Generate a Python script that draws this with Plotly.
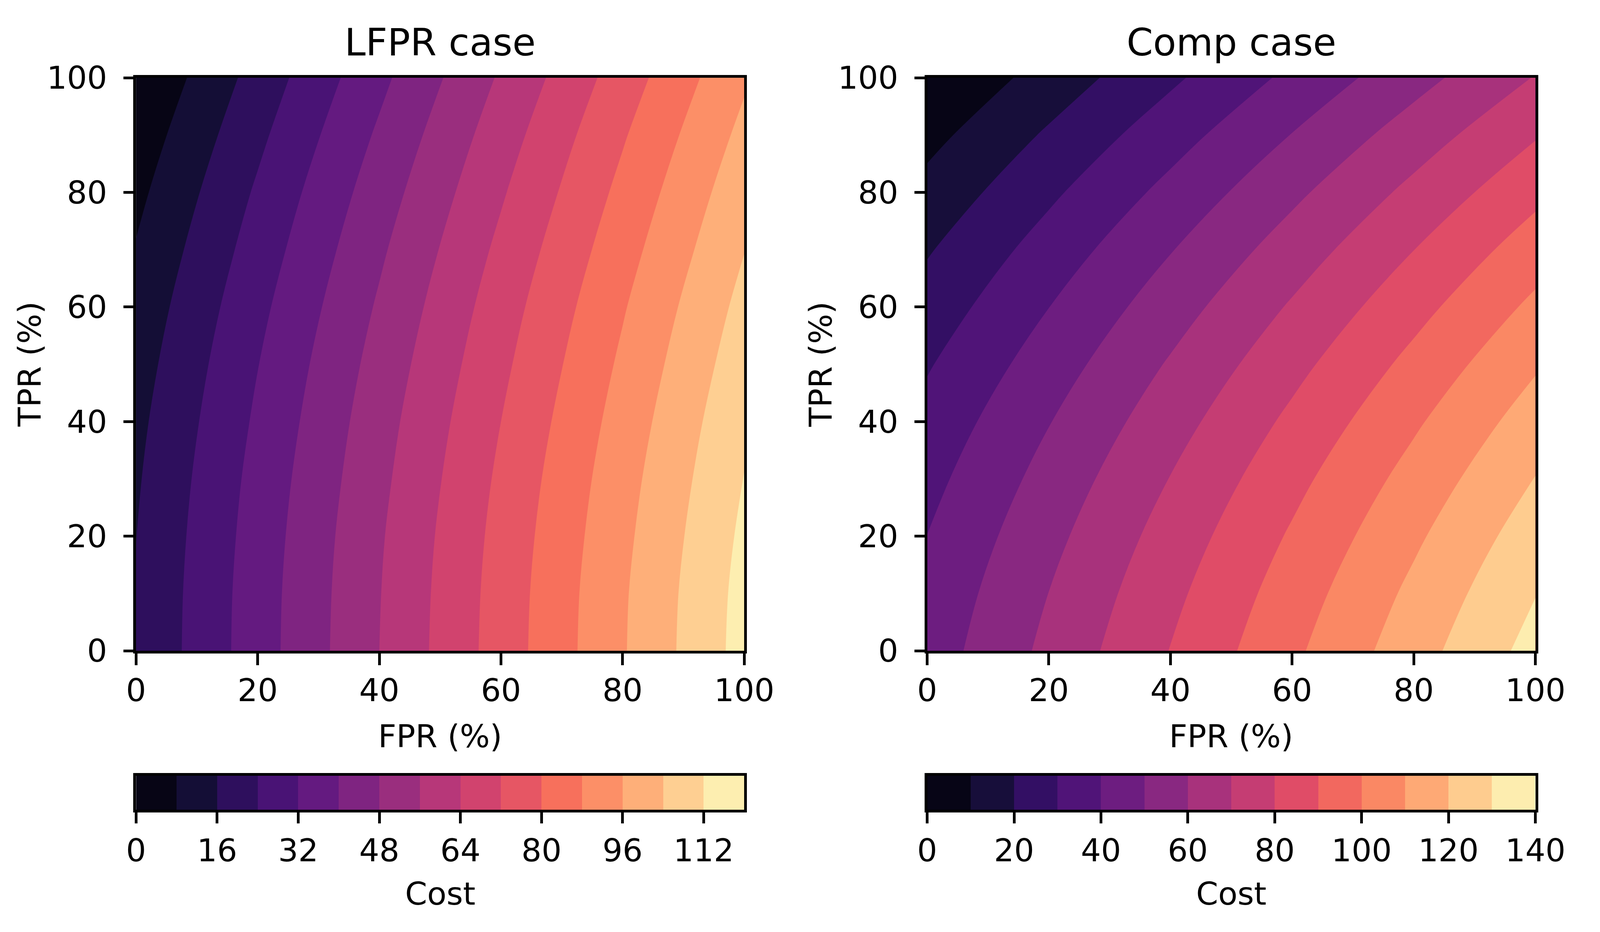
import plotly.graph_objects as go

# cost surfaces (rows = TPR, columns = FPR)
fpr = [0, 20, 40, 60, 80, 100]
tpr = [0, 10, 20, 30, 40, 50, 60, 70, 80, 90, 100]

lfpr_cost = [
    [16.6, 36.3, 56.0, 75.6, 95.3, 115.0],
    [16.4, 36.1, 55.7, 75.3, 95.0, 114.6],
    [15.9, 35.5, 55.1, 74.6, 94.1, 113.6],
    [15.1, 34.6, 54.0, 73.5, 92.9, 112.2],
    [14.0, 33.3, 52.7, 72.0, 91.3, 110.6],
    [12.5, 31.8, 51.0, 70.2, 89.4, 108.6],
    [10.7, 29.9, 49.0, 68.2, 87.3, 106.4],
    [8.5, 27.6, 46.7, 65.8, 84.8, 103.8],
    [6.0, 25.1, 44.1, 63.1, 82.1, 101.1],
    [3.2, 22.2, 41.2, 60.2, 79.2, 98.1],
    [0.0, 19.1, 38.0, 57.0, 75.9, 94.9],
]

comp_cost = [
    [44.7, 62.5, 80.3, 98.0, 115.8, 133.6],
    [42.7, 60.1, 77.5, 94.9, 112.3, 129.7],
    [40.1, 57.1, 74.2, 91.2, 108.2, 125.3],
    [36.9, 53.6, 70.3, 87.0, 103.6, 120.3],
    [33.3, 49.6, 65.9, 82.2, 98.5, 114.8],
    [29.1, 45.0, 61.0, 76.9, 92.8, 108.8],
    [24.3, 39.9, 55.5, 71.1, 86.6, 102.2],
    [19.1, 34.3, 49.5, 64.7, 79.9, 95.1],
    [13.2, 28.1, 42.9, 57.8, 72.6, 87.4],
    [6.9, 21.4, 35.8, 50.3, 64.8, 79.2],
    [0.0, 14.1, 28.2, 42.3, 56.4, 70.5],
]

lfpr_levels = [0, 8, 16, 24, 32, 40, 48, 56, 64, 72, 80, 88, 96, 104, 112, 120]
comp_levels = [0, 10, 20, 30, 40, 50, 60, 70, 80, 90, 100, 110, 120, 130, 140]

axis_ticks = [0, 20, 40, 60, 80, 100]
lfpr_cbar_ticks = [0, 16, 32, 48, 64, 80, 96, 112]
comp_cbar_ticks = [0, 20, 40, 60, 80, 100, 120, 140]

titles = ["LFPR case", "Comp case"]

# reference canvas is 4695x2386; the browser viewport is only 4096 wide,
# so the figure is drawn to fit it and positions are kept as fractions
RW, RH = 4695, 2386
FW, FH = 4080, 2370
FONT = "DejaVu Sans"
TICK_SIZE = 81
TITLE_SIZE = 97


def fx(px):
    return px / RW


def fy(py):
    return 1 - py / RH


# magma, sampled every 0.1
MAGMA = ["#000004", "#140e36", "#3b0f70", "#641a80", "#8c2981", "#b73779",
         "#de4968", "#f7705c", "#fe9f6d", "#fecf92", "#fcfdbf"]


def hex_rgb(h):
    h = h.lstrip("#")
    return [int(h[i:i + 2], 16) for i in (0, 2, 4)]


def magma(f):
    pos = f * (len(MAGMA) - 1)
    i = min(int(pos), len(MAGMA) - 2)
    t = pos - i
    a, b = hex_rgb(MAGMA[i]), hex_rgb(MAGMA[i + 1])
    r, g, bl = [round(a[j] + (b[j] - a[j]) * t) for j in range(3)]
    return f"rgb({r},{g},{bl})"


def band_colors(levels):
    n = len(levels) - 1
    return [magma((k + 0.5) / n) for k in range(n)]


def contour_scale(cols):
    # plotly fills band k with the scale value (k+1)/(n+1)
    n = len(cols)
    cs = [[0, cols[0]]]
    for k, c in enumerate(cols):
        cs.append([(k + 1) / (n + 1), c])
    cs.append([1, cols[-1]])
    return cs


def bar_scale(cols):
    n = len(cols)
    cs = [[0, cols[0]]]
    for k, c in enumerate(cols):
        cs.append([(k + 0.5) / n, c])
    cs.append([1, cols[-1]])
    return cs


fig = go.Figure()

panels = [(lfpr_cost, lfpr_levels), (comp_cost, comp_levels)]
for i, (cost, levels) in enumerate(panels):
    cols = band_colors(levels)
    n = str(i + 1) if i else ""
    nc = str(i + 3)
    fig.add_trace(go.Contour(
        x=fpr, y=tpr, z=cost,
        autocontour=False,
        contours=dict(start=levels[0], end=levels[-1], size=levels[1] - levels[0],
                      coloring="fill", showlines=False),
        line=dict(width=0, smoothing=1),
        colorscale=contour_scale(cols),
        showscale=False, hoverinfo="skip",
        xaxis="x" + n, yaxis="y" + n,
    ))
    # colour bar drawn as a one-row heatmap under each panel
    mids = [(a + b) / 2 for a, b in zip(levels[:-1], levels[1:])]
    fig.add_trace(go.Heatmap(
        x=levels, y=[0, 1], z=[mids],
        zmin=levels[0], zmax=levels[-1],
        colorscale=bar_scale(cols),
        showscale=False, hoverinfo="skip",
        xaxis="x" + nc, yaxis="y" + nc,
    ))

common = dict(showline=True, linewidth=6.5, linecolor="black", mirror=True,
              ticks="outside", tickwidth=6.5, tickcolor="black",
              showgrid=False, zeroline=False,
              tickfont=dict(family=FONT, size=TICK_SIZE, color="black"))
xax = dict(common, ticklen=30, ticklabelstandoff=-5)
yax = dict(common, ticklen=26, ticklabelstandoff=25)
cax = dict(common, ticklen=28, ticklabelstandoff=0)
cyax = dict(common, ticks="", showticklabels=False)

xdom = [[fx(371), fx(2209)], [fx(2762), fx(4600)]]
ydom = [fy(1689), fy(151)]
cdom = [fy(2116), fy(2024)]

fig.update_layout(
    width=FW, height=FH,
    margin=dict(l=0, r=0, t=0, b=0, pad=0),
    paper_bgcolor="white", plot_bgcolor="white",
    font=dict(family=FONT, size=TICK_SIZE, color="black"),
    showlegend=False,
    xaxis=dict(xax, domain=xdom[0], range=[0, 100], tickvals=axis_ticks, anchor="y"),
    yaxis=dict(yax, domain=ydom, range=[0, 100], tickvals=axis_ticks, anchor="x"),
    xaxis2=dict(xax, domain=xdom[1], range=[0, 100], tickvals=axis_ticks, anchor="y2"),
    yaxis2=dict(yax, domain=ydom, range=[0, 100], tickvals=axis_ticks, anchor="x2"),
    xaxis3=dict(cax, domain=xdom[0], range=[lfpr_levels[0], lfpr_levels[-1]],
                tickvals=lfpr_cbar_ticks, anchor="y3"),
    yaxis3=dict(cyax, domain=cdom, range=[0, 1], anchor="x3"),
    xaxis4=dict(cax, domain=xdom[1], range=[comp_levels[0], comp_levels[-1]],
                tickvals=comp_cbar_ticks, anchor="y4"),
    yaxis4=dict(cyax, domain=cdom, range=[0, 1], anchor="x4"),
)

# titles and axis labels
for i, name in enumerate(titles):
    xc = (xdom[i][0] + xdom[i][1]) / 2
    fig.add_annotation(text=name, x=xc, y=fy(56), xref="paper", yref="paper",
                       showarrow=False, xanchor="center", yanchor="middle",
                       font=dict(family=FONT, size=TITLE_SIZE, color="black"))
    fig.add_annotation(text="FPR (%)", x=xc, y=fy(1918), xref="paper", yref="paper",
                       showarrow=False, xanchor="center", yanchor="middle")
    fig.add_annotation(text="Cost", x=xc, y=fy(2341), xref="paper", yref="paper",
                       showarrow=False, xanchor="center", yanchor="middle")
    fig.add_annotation(text="TPR (%)", x=xdom[i][0] - fx(322), y=(ydom[0] + ydom[1]) / 2,
                       xref="paper", yref="paper", textangle=-90,
                       showarrow=False, xanchor="center", yanchor="middle")

fig.write_html("out.html")
